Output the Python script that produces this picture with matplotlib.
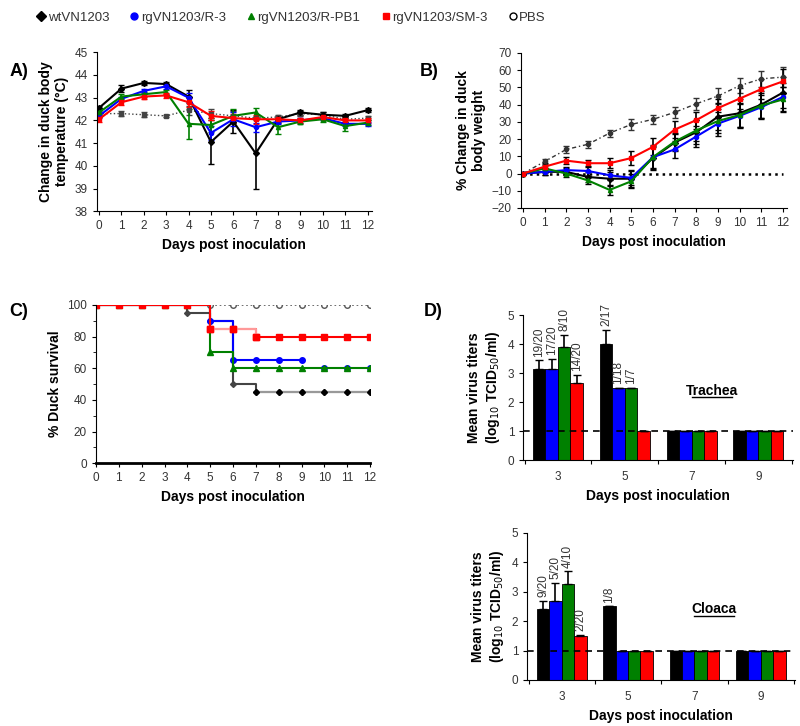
import numpy as np
import matplotlib.pyplot as plt
from matplotlib.lines import Line2D

plt.rcParams['font.family'] = ['Liberation Sans', 'DejaVu Sans']

days = np.arange(13)
groups = ['wtVN1203', 'rgVN1203/R-3', 'rgVN1203/R-PB1', 'rgVN1203/SM-3', 'PBS']
colors = ['black', 'blue', 'green', 'red', 'black']
markers = ['D', 'o', '^', 's', 'o']

# A) body temperature
temp_wt = [42.55, 43.4, 43.65, 43.6, 43.05, 41.05, 41.95, 40.55, 42.05, 42.35, 42.25, 42.2, 42.45]
temp_r3 = [42.2, 42.95, 43.3, 43.5, 43.0, 41.45, 42.05, 41.7, 41.95, 42.0, 42.1, 41.85, 41.85]
temp_pb1 = [42.35, 43.05, 43.15, 43.25, 41.85, 41.8, 42.2, 42.35, 41.7, 41.95, 42.05, 41.75, 41.9]
temp_sm3 = [42.05, 42.8, 43.05, 43.1, 42.8, 42.2, 42.1, 42.05, 42.05, 42.0, 42.15, 42.0, 42.0]
temp_pbs = [42.3, 42.3, 42.25, 42.2, 42.45, 42.3, 42.2, 42.1, 42.15, 42.3, 42.25, 42.05, 42.1]
temp_err_wt = [0.1, 0.15, 0.1, 0.1, 0.3, 0.95, 0.5, 1.55, 0.15, 0.1, 0.1, 0.1, 0.1]
temp_err_r3 = [0.1, 0.1, 0.1, 0.1, 0.2, 0.3, 0.3, 0.2, 0.1, 0.1, 0.1, 0.1, 0.1]
temp_err_pb1 = [0.1, 0.1, 0.1, 0.1, 0.65, 0.3, 0.3, 0.2, 0.3, 0.1, 0.1, 0.2, 0.1]
temp_err_sm3 = [0.1, 0.1, 0.1, 0.1, 0.2, 0.2, 0.2, 0.2, 0.1, 0.1, 0.1, 0.1, 0.1]
temp_err_pbs = [0.1, 0.1, 0.1, 0.05, 0.2, 0.2, 0.2, 0.1, 0.1, 0.1, 0.1, 0.1, 0.1]

# B) body weight
wt_wt = [0, 1, 1, -2, -3, -3, 9, 18, 24, 33, 35, 40, 47]
wt_r3 = [0, 1, 2, 1.5, -1, -2.5, 9.5, 14, 21.5, 29, 33.5, 38.5, 44.5]
wt_pb1 = [0, 3, 0, -4, -9.5, -4.5, 9.5, 18.5, 25, 30.5, 34, 39.5, 43]
wt_sm3 = [0, 4, 7.5, 6, 6, 9, 15.5, 25.5, 31, 38, 43.5, 49, 53.5]
wt_pbs = [0, 7, 14, 17, 23.5, 28.5, 31.5, 35.5, 40.5, 45, 51, 55, 56]
wt_err_wt = [0, 2, 2, 3, 4, 5, 7, 5, 7, 8, 8, 8, 9]
wt_err_r3 = [0, 2, 2, 3, 3, 4, 6, 5, 6, 7, 7, 7, 8]
wt_err_pb1 = [0, 2, 2, 2, 3, 4, 7, 5, 6, 7, 7, 7, 7]
wt_err_sm3 = [0, 2, 2, 2, 3, 4, 5, 5, 5, 5, 6, 6, 7]
wt_err_pbs = [0, 1.5, 2, 2, 2, 3, 2.5, 3, 3.5, 4.5, 4.5, 4.5, 6]

# C) survival
surv_wt = [100, 100, 100, 100, 95, 90, 50, 45, 45, 45, 45, 45, 45]
surv_r3 = [100, 100, 100, 100, 100, 90, 65, 65, 65, 65]
surv_r3_tail = [60, 60, 60]
surv_pb1 = [100, 100, 100, 100, 100, 70, 60, 60, 60, 60, 60, 60, 60]
surv_sm3 = [100, 100, 100, 100, 100, 85, 85, 80, 80, 80, 80, 80, 80]
surv_pbs = [100] * 13

# D) virus titers
titer_days = ['3', '5', '7', '9']
trachea = {'wt': [3.15, 4.02, 1, 1], 'r3': [3.15, 2.5, 1, 1],
           'pb1': [3.9, 2.5, 1, 1], 'sm3': [2.65, 1, 1, 1]}
trachea_err = {'wt': [0.3, 0.48, 0, 0], 'r3': [0.35, 0, 0, 0],
               'pb1': [0.42, 0, 0, 0], 'sm3': [0.3, 0, 0, 0]}
trachea_n = {'wt': ['19/20', '2/17', '', ''], 'r3': ['17/20', '1/18', '', ''],
             'pb1': ['8/10', '1/7', '', ''], 'sm3': ['14/20', '', '', '']}
cloaca = {'wt': [2.4, 2.5, 1, 1], 'r3': [2.7, 1, 1, 1],
          'pb1': [3.25, 1, 1, 1], 'sm3': [1.5, 1, 1, 1]}
cloaca_err = {'wt': [0.3, 0, 0, 0], 'r3': [0.6, 0, 0, 0],
              'pb1': [0.45, 0, 0, 0], 'sm3': [0.03, 0, 0, 0]}
cloaca_n = {'wt': ['9/20', '1/8', '', ''], 'r3': ['5/20', '', '', ''],
            'pb1': ['4/10', '', '', ''], 'sm3': ['2/20', '', '', '']}

fig = plt.figure(figsize=(8, 7.26), dpi=100)

tick_kw = dict(labelsize=8.5, labelcolor='#333333', direction='out', length=3)
lab_kw = dict(fontsize=10, fontweight='bold')


def style_ax(ax):
    for s in ['top', 'right']:
        ax.spines[s].set_visible(False)
    ax.tick_params(**tick_kw)


# legend row
handles = [Line2D([], [], ls='none', marker=m, color=c, ms=5,
                  mfc=('white' if g == 'PBS' else c)) for g, m, c in zip(groups, markers, colors)]
fig.legend(handles, groups, loc='upper left', bbox_to_anchor=(0.03, 1.0), ncol=5,
           frameon=False, fontsize=9.5, handletextpad=0.1, columnspacing=1.5,
           handlelength=0.8, labelcolor='#333333')

# panel A
axA = fig.add_axes([0.121, 0.709, 0.344, 0.219])
A_series = [(temp_wt, temp_err_wt), (temp_r3, temp_err_r3), (temp_pb1, temp_err_pb1),
            (temp_sm3, temp_err_sm3)]
axA.errorbar(days, temp_pbs, yerr=temp_err_pbs, color='#444444', ls=':', lw=1,
             marker='s', ms=3, capsize=2, elinewidth=1)
for (y, e), c, m in zip(A_series, colors, markers):
    axA.errorbar(days, y, yerr=e, color=c, lw=1.5, marker=m, ms=3, capsize=2, elinewidth=1.2)
axA.set_xlim(-0.1, 12.2)
axA.set_ylim(38, 45)
axA.set_xticks(days)
axA.set_yticks(range(38, 46))
axA.set_xlabel('Days post inoculation', **lab_kw)
axA.set_ylabel('Change in duck body\ntemperature (°C)', **lab_kw)
style_ax(axA)
fig.text(0.012, 0.895, 'A)', fontsize=13, fontweight='bold')

# panel B
axB = fig.add_axes([0.651, 0.7135, 0.333, 0.2135])
B_series = [(wt_wt, wt_err_wt), (wt_r3, wt_err_r3), (wt_pb1, wt_err_pb1), (wt_sm3, wt_err_sm3)]
axB.plot(days, np.zeros(13), color='black', ls=':', lw=1.8)
axB.errorbar(days, wt_pbs, yerr=wt_err_pbs, color='#333333', ls=(0, (3, 2, 1, 2)), lw=1,
             marker='o', ms=3, capsize=2, elinewidth=1)
for (y, e), c, m in zip(B_series, colors, markers):
    axB.errorbar(days, y, yerr=e, color=c, lw=1.5, marker=m, ms=3, capsize=2, elinewidth=1.2,
                 ecolor='black')
axB.set_xlim(-0.1, 12.2)
axB.set_ylim(-20, 70)
axB.set_xticks(days)
axB.set_yticks(range(-20, 71, 10))
axB.set_xlabel('Days post inoculation', **lab_kw)
axB.set_ylabel('% Change in duck\nbody weight', **lab_kw)
style_ax(axB)
fig.text(0.525, 0.895, 'B)', fontsize=13, fontweight='bold')

# panel C
axC = fig.add_axes([0.12, 0.362, 0.3425, 0.218])
axC.plot(days, surv_pbs, color='#555555', ls=':', lw=1.2, marker='o', ms=4, mfc='white')
axC.step(days, surv_wt, where='post', color='#444444', lw=1.5, marker='D', ms=3)
axC.step(days[7:], surv_wt[7:], where='post', color='#999999', lw=1.5, marker='D', ms=3,
         mfc='black', mec='black')
axC.step(days[:10], surv_r3, where='post', color='blue', lw=1.5, marker='o', ms=4)
axC.plot(days[10:], surv_r3_tail, ls='none', color='blue', marker='o', ms=4)
axC.step(days, surv_pb1, where='post', color='green', lw=1.5, marker='^', ms=4)
axC.step(days, surv_sm3, where='post', color='red', lw=1.5, marker='s', ms=4)
axC.step(days[5:8], surv_sm3[5:8], where='post', color='#ff9999', lw=1.5)
axC.plot(days[5:8], surv_sm3[5:8], ls='none', color='red', marker='s', ms=4)
axC.set_xlim(0, 12)
axC.set_ylim(0, 100)
axC.set_xticks(days)
axC.set_yticks(range(0, 101, 20))
axC.set_yticks(range(0, 101, 10), minor=True)
axC.set_xlabel('Days post inoculation', **lab_kw)
axC.set_ylabel('% Duck survival', **lab_kw)
style_ax(axC)
axC.spines['bottom'].set_linewidth(2)
axC.tick_params(which='minor', direction='out', length=2)
fig.text(0.012, 0.565, 'C)', fontsize=13, fontweight='bold')


# panel D
def bar_panel(ax, vals, errs, nlabels, title):
    keys = ['wt', 'r3', 'pb1', 'sm3']
    x = np.arange(len(titer_days))
    w = 0.187
    for i, (k, c) in enumerate(zip(keys, colors)):
        xs = x + (i - 1.5) * w
        ax.bar(xs, vals[k], width=w, color=c, edgecolor='black', lw=0.6,
               yerr=[np.zeros(4), errs[k]], error_kw=dict(ecolor='black', capsize=3, elinewidth=1.2),
               zorder=2)
        for xi, v, e, lab in zip(xs, vals[k], errs[k], nlabels[k]):
            if lab:
                ax.text(xi, v + e + 0.12, lab, rotation=90, ha='center', va='bottom',
                        fontsize=8.5, color='#333333')
    ax.axhline(1, color='black', ls=(0, (4, 3)), lw=1.2, zorder=3)
    ax.set_xlim(-0.52, 3.52)
    ax.set_ylim(0, 5)
    ax.set_xticks(np.arange(-0.5, 3.6, 1))
    ax.set_xticklabels([])
    ax.set_xticks(x, minor=True)
    ax.set_xticklabels(titer_days, minor=True)
    style_ax(ax)
    ax.tick_params(axis='x', which='minor', length=0, pad=8, labelsize=8.5, labelcolor='#333333')
    ax.set_ylabel('Mean virus titers\n(log$_{10}$ TCID$_{50}$/ml)', **lab_kw)
    ax.set_xlabel('Days post inoculation', **lab_kw)
    ax.text(2.3, 2.4, title, fontsize=10, fontweight='bold', ha='center', va='center')
    ax.plot([2.0, 2.6], [2.17, 2.17], color='black', lw=1)


axD1 = fig.add_axes([0.654, 0.366, 0.3375, 0.2])
bar_panel(axD1, trachea, trachea_err, trachea_n, 'Trachea')
axD2 = fig.add_axes([0.659, 0.0634, 0.335, 0.2025])
bar_panel(axD2, cloaca, cloaca_err, cloaca_n, 'Cloaca')
fig.text(0.53, 0.565, 'D)', fontsize=13, fontweight='bold')

fig.savefig('out.png', dpi=100)
